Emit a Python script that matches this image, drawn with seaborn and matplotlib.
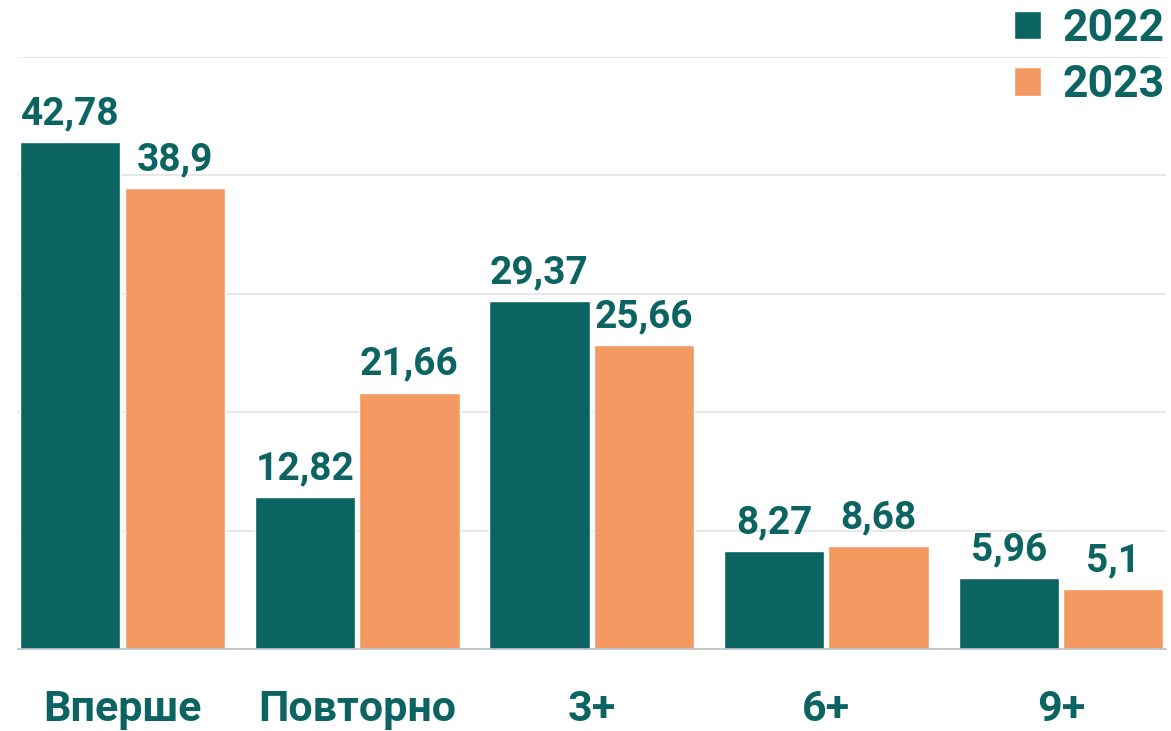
import matplotlib
matplotlib.use("Agg")
import matplotlib.pyplot as plt
import seaborn as sns
import pandas as pd

categories = ["Вперше", "Повторно", "3+", "6+", "9+"]
years = ["2022", "2023"]
values_2022 = [42.78, 12.82, 29.37, 8.27, 5.96]
values_2023 = [38.9, 21.66, 25.66, 8.68, 5.1]
labels_2022 = ["42,78", "12,82", "29,37", "8,27", "5,96"]
labels_2023 = ["38,9", "21,66", "25,66", "8,68", "5,1"]

df = pd.DataFrame({
    "cat": categories * 2,
    "year": [years[0]] * 5 + [years[1]] * 5,
    "val": values_2022 + values_2023,
})

TEAL = "#0b6461"
ORANGE = "#f39961"
TXT = "#0b6461"

sns.set_theme(style="white")
plt.rcParams["font.family"] = ["Roboto", "DejaVu Sans"]
plt.rcParams["font.weight"] = "bold"

W, H = 1171, 731
fig = plt.figure(figsize=(W / 100, H / 100), dpi=100)
ax = fig.add_axes([18 / W, 1 - 649 / H, (1165.5 - 18) / W, (649 - 57) / H])

sns.barplot(data=df, x="cat", y="val", hue="year", palette=[TEAL, ORANGE],
            width=0.891, gap=0.04, ax=ax, saturation=1, legend=True)

ax.set_xlim(-0.4455, 4.4455)
ax.set_ylim(0, 50)
ax.set_yticks([0, 10, 20, 30, 40, 50])
ax.yaxis.grid(True, color="#e4e4e4", linewidth=1.2)
ax.set_axisbelow(True)
ax.tick_params(axis="y", left=False, labelleft=False)
ax.tick_params(axis="x", bottom=False, pad=23, labelsize=31, labelcolor=TXT)
for lbl in ax.get_xticklabels():
    lbl.set_fontweight("bold")
for s in ["top", "right", "left"]:
    ax.spines[s].set_visible(False)
ax.spines["bottom"].set_color("#b8c0c8")
ax.spines["bottom"].set_linewidth(1.2)
ax.set_xlabel("")
ax.set_ylabel("")

for cont, labs in zip(ax.containers, [labels_2022, labels_2023]):
    ax.bar_label(cont, labels=labs, padding=7, fontsize=28, color=TXT,
                 fontweight="bold", clip_on=False)

handles, _ = ax.get_legend_handles_labels()
ax.legend(handles, years, loc="upper right", bbox_to_anchor=(1165 / W, 1 - 8 / H),
          bbox_transform=fig.transFigure, frameon=False, fontsize=32,
          handlelength=0.6, handleheight=0.6, handletextpad=0.5,
          labelspacing=0.32, labelcolor=TXT, borderpad=0, borderaxespad=0)
for t in ax.get_legend().get_texts():
    t.set_fontweight("bold")

fig.savefig("out.png", dpi=100)
